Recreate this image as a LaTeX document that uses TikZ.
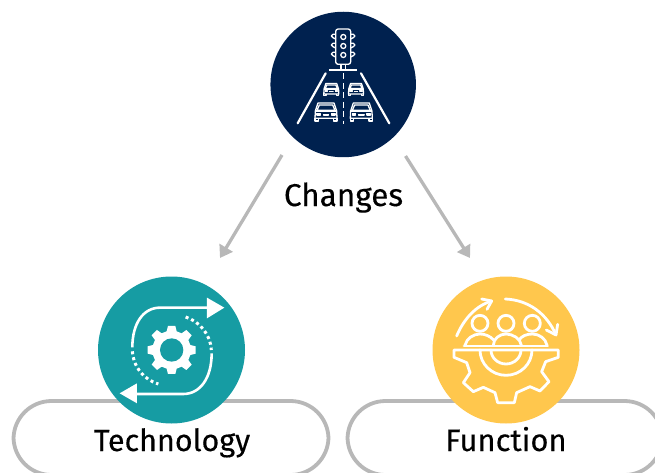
\documentclass[tikz,border=0pt]{standalone}
\usepackage{fontspec}
\setmainfont[FakeBold=0.25]{Fira Sans}
\definecolor{navy}{HTML}{00214F}
\definecolor{teal2}{HTML}{169CA3}
\definecolor{gold}{HTML}{FFC74D}
\definecolor{linegray}{HTML}{B8B8B8}
\usetikzlibrary{arrows.meta}
\tikzset{
  disc/.style={circle,inner sep=0pt,minimum size=147pt},
  pill/.style={draw=linegray,line width=3.8pt,fill=white,rounded corners=38pt,minimum width=315pt,minimum height=74pt,inner sep=0pt},
  lbl/.style={font=\fontsize{30.5}{36}\selectfont,text=black,inner sep=0pt},
  conn/.style={draw=linegray,line width=3.3pt,-{Triangle[length=12pt,width=15pt]},shorten >=0pt},
  ic/.style={draw=white,line width=1.3pt,line join=round},
  icb/.style={draw=white,line width=2.8pt,line join=round,line cap=round},
  zoomA/.style={shift={(#1)},x=0.3333pt,y=-0.3333pt}
}
\newcommand{\carpic}[3]{% cx, cy, scale (1 = big car)
  \begin{scope}[shift={(#1,#2)},x=#3*0.3333pt,y=-#3*0.3333pt,ic]
    \draw[fill=navy] (-32,0) -- (-24,-24) -- (24,-24) -- (32,0) -- (33,22) -- (-33,22) -- cycle;
    \draw (-27,-2) -- (-20,-18) -- (20,-18) -- (27,-2) -- cycle;
    \draw (-33,0) -- (33,0);
    \draw (-33,22) -- (-33,30) -- (-23,30) -- (-23,22);
    \draw (33,22) -- (33,30) -- (23,30) -- (23,22);
    \draw[fill=white] (-27,7) rectangle (-17,12);
    \draw[fill=white] (27,7) rectangle (17,12);
    \draw[fill=white] (-8,10) rectangle (8,12);
  \end{scope}}
\begin{document}
\begin{tikzpicture}[x=1pt,y=-1pt]
\useasboundingbox (0,0) rectangle (655,473);
\clip (0,0) rectangle (655,473);
\coordinate (aStart) at (282,155);
\coordinate (aEnd) at (220,258);
\coordinate (bStart) at (405.5,156);
\coordinate (bEnd) at (470,258);
\node[pill] (pillT) at (171,438) {};
\node[pill] (pillF) at (505,438) {};
\node[disc,fill=navy,minimum size=145.5pt] (changes) at (343.2,84.5) {};
\node[disc,fill=teal2] (tech) at (171.5,350) {};
\node[disc,fill=gold] (func) at (506,350) {};
\node[lbl,anchor=base,font=\fontsize{31.5}{36}\selectfont] (lchanges) at (343.5,206) {Changes};
\node[lbl,anchor=base] (ltech) at (172,451) {Technology};
\node[lbl,anchor=base,font=\fontsize{31}{36}\selectfont] (lfunc) at (506,451) {Function};
\draw[conn] (aStart) -- (aEnd);
\draw[conn] (bStart) -- (bEnd);
% traffic icon
\begin{scope}[zoomA={260,5}]
  \draw[ic,rounded corners=2.5pt] (227,72) rectangle (272,178);
  \foreach \y in {96,123,150}{
    \draw[ic] (250,\y) circle (7.5);
    \draw[ic] (227,\y-8) -- (219,\y-8) arc (270:90:5) -- (227,\y+6);
    \draw[ic] (272,\y-8) -- (280,\y-8) arc (-90:90:5) -- (272,\y+6);
  }
  \draw[ic] (243,178) -- (243,195) (257,178) -- (257,195);
  \draw[draw=white,line width=2.2pt] (207,196) -- (292,196);
  \draw[draw=white,line width=2.2pt,line cap=round] (197,205) -- (113,355);
  \draw[draw=white,line width=2.2pt,line cap=round] (303,205) -- (388,355);
  \draw[draw=white,line width=1.5pt,dash pattern=on 6pt off 3.5pt] (250,205) -- (250,356);
\end{scope}
\carpic{331.3}{89}{0.68}
\carpic{356}{89}{0.68}
\carpic{326}{111}{1}
\carpic{361.3}{111}{1}
% technology icon
\begin{scope}[zoomA={90,270}]
  \draw[draw=white,line width=2.6pt] (127,232) .. controls (127,160) and (160,113) .. (210,113) -- (355,113);
  \fill[white] (351,83) -- (403,113) -- (351,145) -- cycle;
  \draw[draw=white,line width=2.6pt] (365,250) .. controls (365,325) and (330,372) .. (280,372) -- (135,372);
  \fill[white] (141,340) -- (89,370) -- (141,400) -- cycle;
  \draw[draw=white,line width=3pt,dash pattern=on 3pt off 3pt] (287,141) .. controls (330,155) and (362,195) .. (364,240);
  \draw[draw=white,line width=3pt,dash pattern=on 3pt off 3pt] (127,244) .. controls (130,290) and (160,328) .. (205,342);
  \begin{scope}[shift={(245,240)}]
    \fill[white] plot[] coordinates {
      (-11,-72) (11,-72) (15,-56) (30,-50) (44,-60) (60,-44) (50,-30) (56,-15) (72,-11)
      (72,11) (56,15) (50,30) (60,44) (44,60) (30,50) (15,56) (11,72)
      (-11,72) (-15,56) (-30,50) (-44,60) (-60,44) (-50,30) (-56,15) (-72,11)
      (-72,-11) (-56,-15) (-50,-30) (-60,-44) (-44,-60) (-30,-50) (-15,-56) (-11,-72)} ;
    \fill[teal2] (0,0) circle (35);
  \end{scope}
\end{scope}
% function icon
\begin{scope}[zoomA={425,270}]
  \draw[icb] (95,198) .. controls (115,150) and (150,108) .. (200,93);
  \draw[icb] (170,87) -- (200,93) -- (186,118);
  \draw[icb] (241,87) .. controls (310,90) and (365,130) .. (393,195);
  \draw[icb] (364,180) -- (393,195) -- (398,163);
  \draw[icb] (165,160) circle (24);
  \draw[icb] (243,160) circle (24);
  \draw[icb] (322,160) circle (24);
  \draw[icb] (117,228) -- (368,228);
  \draw[icb] (120,226) .. controls (125,205) and (145,192) .. (165,192) .. controls (180,192) and (195,198) .. (206,210);
  \draw[icb] (205,226) .. controls (205,205) and (225,192) .. (243,192) .. controls (262,192) and (287,205) .. (289,226);
  \draw[icb] (282,210) .. controls (290,198) and (305,192) .. (322,192) .. controls (342,192) and (362,205) .. (366,226);
  \draw[icb,line cap=butt] (87,240) -- (400,240) -- (400,262) -- (362,275) -- (350,305) -- (372,335) -- (345,363) -- (315,350) -- (275,368) -- (268,398) -- (218,398) -- (210,368) -- (175,352) -- (145,365) -- (115,338) -- (135,308) -- (125,278) -- (87,262) -- cycle;
  \draw[icb] (165,240) arc (180:0:78 and 76);
  \draw[icb] (198,240) arc (180:0:45 and 42);
\end{scope}
\end{tikzpicture}
\end{document}
